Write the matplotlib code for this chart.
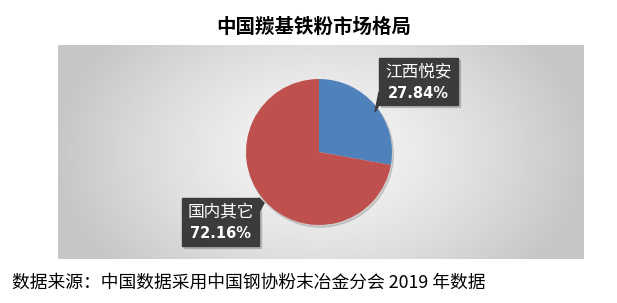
import numpy as np
import matplotlib.pyplot as plt
from matplotlib.patches import Rectangle, Polygon

plt.rcParams['font.family'] = ['Noto Sans CJK SC', 'DejaVu Sans']

labels = ['江西悦安', '国内其它']
values = [27.84, 72.16]
colors = ['#4F81BD', '#C0504D']
title = '中国羰基铁粉市场格局'
note = '数据来源：中国数据采用中国钢协粉末冶金分会 2019 年数据'

W, H = 617, 303
fig = plt.figure(figsize=(W / 100, H / 100), dpi=100)


def fx(x):
    return x / W


def fy(y):
    return 1 - y / H


# gray panel with gradient
px0, px1, py0, py1 = 58, 584, 45, 259
bg = fig.add_axes([fx(px0), fy(py1), fx(px1 - px0), (py1 - py0) / H])
xx, yy = np.meshgrid(np.linspace(-1, 1, 300), np.linspace(-1, 1, 150))
d = np.clip(np.sqrt(xx ** 2 * 1.0 + yy ** 2 * 0.35), 0, 1)
shade = 0.97 - 0.19 * d ** 1.3
bg.imshow(shade, cmap='gray', vmin=0, vmax=1, aspect='auto', extent=[0, 1, 0, 1])
bg.axis('off')

# pie
cx, cy, r = 319, 152, 73
ax = fig.add_axes([fx(cx - r - 6), fy(cy + r + 6), fx(2 * r + 12), (2 * r + 12) / H])
ax.set_aspect('equal')
ax.axis('off')
shadow = plt.Circle((0.02, -0.03), 1.0, color='black', alpha=0.12, zorder=0)
ax.add_patch(shadow)
ax.pie(values, colors=colors, startangle=90, counterclock=False, radius=1,
       wedgeprops=dict(linewidth=0))
ax.set_xlim(-1 - 6 / r, 1 + 6 / r)
ax.set_ylim(-1 - 6 / r, 1 + 6 / r)


# label boxes (pixel coords)
def label_box(x0, y0, x1, y1, tip, name, pct):
    fig.patches.append(Rectangle((fx(x0 + 2), fy(y1 + 2)), fx(x1 - x0), (y1 - y0) / H,
                                 transform=fig.transFigure, color='black', alpha=0.15))
    fig.patches.append(Rectangle((fx(x0), fy(y1)), fx(x1 - x0), (y1 - y0) / H,
                                 transform=fig.transFigure, color='#3b3b3b'))
    fig.patches.append(Polygon([(fx(p[0]), fy(p[1])) for p in tip],
                               transform=fig.transFigure, color='#3b3b3b'))
    xm = (x0 + x1) / 2
    fig.text(fx(xm), fy(y0 + 14), name, color='white', fontsize=12,
             ha='center', va='center')
    fig.text(fx(xm), fy(y0 + 35), pct, color='white', fontsize=10.5,
             fontweight='bold', ha='center', va='center', family='DejaVu Sans')


label_box(379, 58, 458, 105, [(379, 92), (379, 105), (375, 112)],
          labels[0], f'{values[0]:.2f}%')
label_box(182, 198, 259, 246, [(259, 198), (259, 212), (264, 203)],
          labels[1], f'{values[1]:.2f}%')

fig.text(fx(314), fy(27), title, fontsize=14, fontweight='bold',
         ha='center', va='center')
fig.text(fx(12), fy(283), note, fontsize=12.8, ha='left', va='center')

fig.savefig('out.png', dpi=100)
